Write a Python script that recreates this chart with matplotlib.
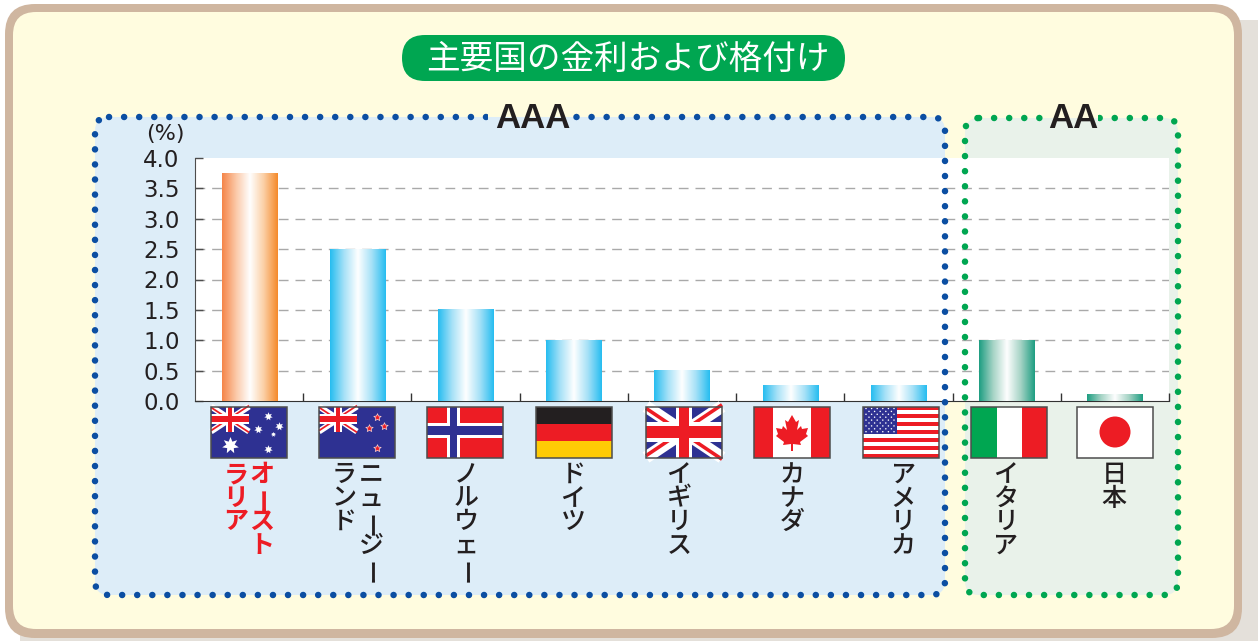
import numpy as np
import matplotlib
matplotlib.use("Agg")
import matplotlib.pyplot as plt
from matplotlib.patches import FancyBboxPatch, Rectangle, Circle, Polygon
from matplotlib.colors import LinearSegmentedColormap

# chart data
countries = ["オーストラリア", "ニュージーランド", "ノルウェー", "ドイツ", "イギリス", "カナダ", "アメリカ", "イタリア", "日本"]
rates = [3.75, 2.5, 1.5, 1.0, 0.5, 0.25, 0.25, 1.0, 0.1]
label_columns = [["オースト", "ラリア"], ["ニュージー", "ランド"], ["ノルウェー"], ["ドイツ"], ["イギリス"],
                 ["カナダ"], ["アメリカ"], ["イタリア"], ["日本"]]
y_ticks = [0.0, 0.5, 1.0, 1.5, 2.0, 2.5, 3.0, 3.5, 4.0]
title = "主要国の金利および格付け"

RED = "#ED1C24"
NAVY = "#2E3192"
TEXT = "#231F20"
JP = ["Noto Sans CJK JP", "DejaVu Sans"]
LAT = ["Liberation Sans", "DejaVu Sans"]

fig = plt.figure(figsize=(12.58, 6.41), dpi=100)
fig.patch.set_facecolor("white")


def pixel_axes(zorder):
    a = fig.add_axes([0, 0, 1, 1], zorder=zorder)
    a.set_xlim(0, 1258)
    a.set_ylim(641, 0)
    a.axis("off")
    a.patch.set_alpha(0)
    return a


def rbox(a, x0, y0, x1, y1, r, **kw):
    p = FancyBboxPatch((x0, y0), x1 - x0, y1 - y0, boxstyle=f"round,pad=0,rounding_size={r}", **kw)
    a.add_patch(p)
    return p


# background frame and group panels
bg = pixel_axes(0)
rbox(bg, 20, 20, 1290, 700, 30, fc="#E4E0DA", ec="none")
rbox(bg, 5, 4, 1242, 638, 30, fc="#CFB6A0", ec="none")
rbox(bg, 13, 12, 1234, 629, 23, fc="#FFFCDF", ec="none")
rbox(bg, 95, 117, 945, 595, 14, fc="#DDEDF8", ec="none")
rbox(bg, 965, 118, 1178, 595, 14, fc="#E9F2EA", ec="none")
rbox(bg, 402, 35, 845, 81, 23, fc="#00A651", ec="none")
bg.text(628, 59.5, title, color="white", fontsize=24.2, ha="center", va="center", family=JP)

# bar chart
ax = fig.add_axes([195 / 1258, (641 - 401) / 641, 974 / 1258, 243 / 641], zorder=1)
ax.set_facecolor("white")
x = np.arange(len(rates))
bars = ax.bar(x, rates, width=0.51, color="none", zorder=3)

cmap_orange = LinearSegmentedColormap.from_list("o", ["#F58549", "#FBC9A8", "#FFFFFF", "#FBCFA5", "#F58A2B"])
cmap_blue = LinearSegmentedColormap.from_list("b", ["#27BDF0", "#A6E1F7", "#FFFFFF", "#A6E1F7", "#27BDF0"])
cmap_green = LinearSegmentedColormap.from_list("g", ["#1E9E82", "#A5D3C5", "#FFFFFF", "#A5D3C5", "#1E9E82"])
ramp = np.linspace(0, 1, 128).reshape(1, -1)
for i, b in enumerate(bars):
    cmap = cmap_orange if i == 0 else (cmap_green if i >= 7 else cmap_blue)
    ax.imshow(ramp, cmap=cmap, aspect="auto", zorder=3,
              extent=(b.get_x(), b.get_x() + b.get_width(), 0, b.get_height()))

ax.hlines(y_ticks[1:-1], -0.5, len(rates) - 0.5, color="#A9A9A9", lw=1, linestyles=(0, (7, 5)), zorder=1)
ax.set_xlim(-0.5, len(rates) - 0.5)
ax.set_ylim(0, 4)
ax.set_yticks(y_ticks)
ax.set_yticklabels([f"{v:.1f}" for v in y_ticks], fontsize=16.5, family="DejaVu Sans", color=TEXT)
ax.set_xticks(x[:-1] + 0.5)
ax.set_xticks([len(rates) - 0.5], minor=True)
ax.set_xticklabels([])
ax.tick_params(axis="y", direction="in", length=6, width=1, color="#4D4D4D", pad=11)
ax.tick_params(axis="x", which="both", direction="in", length=6, width=1, color="#333333")
for s in ["top", "right"]:
    ax.spines[s].set_visible(False)
ax.spines["left"].set_color("#4D4D4D")
ax.spines["bottom"].set_color("#333333")

# dotted outlines, labels and flags sit over the chart
fg = pixel_axes(2)
dot = (0, (0.01, 2.3))
rbox(fg, 95, 117, 945, 595, 14, fc="none", ec="#0B4EA2", lw=4.7, linestyle=dot, capstyle="round")
rbox(fg, 965, 118, 1178, 595, 14, fc="none", ec="#00A651", lw=4.7, linestyle=dot, capstyle="round")
# gaps in the dots behind the rating names
fg.add_patch(Rectangle((488, 108), 84, 9, fc="#FFFCDF", ec="none"))
fg.add_patch(Rectangle((488, 117), 84, 10, fc="#DDEDF8", ec="none"))
fg.add_patch(Rectangle((1048, 108), 50, 10, fc="#FFFCDF", ec="none"))
fg.add_patch(Rectangle((1048, 118), 50, 10, fc="#E9F2EA", ec="none"))
fg.text(533, 118, "AAA", fontsize=25, fontweight="bold", family=LAT, color=TEXT, ha="center", va="center")
fg.text(1073, 118, "AA", fontsize=25, fontweight="bold", family=LAT, color=TEXT, ha="center", va="center")
fg.text(165, 134, "(%)", fontsize=16, family="DejaVu Sans", color=TEXT, ha="center", va="center")

FW, FH = 76, 51
FY = 406.5
flag_x = [211, 319, 427, 536, 646, 754, 863, 971, 1077]


def rect(x0, y0, w, h, c):
    fg.add_patch(Rectangle((x0, y0), w, h, fc=c, ec="none"))


def border(x0):
    fg.add_patch(Rectangle((x0, FY), FW, FH, fc="none", ec="#4D4D4D", lw=1.1))


def union_jack(x0, y0, w, h):
    clip = Rectangle((x0, y0), w, h, transform=fg.transData)
    rect(x0, y0, w, h, NAVY)
    off = h * 0.035
    for xs, sign in (([x0, x0 + w], 1), ([x0 + w, x0], -1)):
        ys = [y0, y0 + h]
        fg.plot(xs, ys, color="white", lw=h * 0.24 * 0.72, solid_capstyle="butt", clip_path=clip, zorder=1)
        fg.plot(xs, [ys[0] + sign * off, ys[1] + sign * off], color=RED, lw=h * 0.07 * 0.72,
                solid_capstyle="butt", clip_path=clip, zorder=1)
    rect(x0 + w * 0.39, y0, w * 0.22, h, "white")
    rect(x0, y0 + h * 0.3, w, h * 0.4, "white")
    rect(x0 + w * 0.44, y0, w * 0.12, h, RED)
    rect(x0, y0 + h * 0.38, w, h * 0.24, RED)


def star_flag(x0):
    rect(x0, FY, FW, FH, NAVY)
    union_jack(x0, FY, 38, 25)


def australia(x0):
    star_flag(x0)
    for dx, dy, s in [(57, 9, 38), (68, 19, 38), (47, 22, 38), (62, 27, 14), (57, 42, 38), (19, 38, 150)]:
        fg.scatter(x0 + dx, FY + dy, marker=(7, 1, 0), s=s, color="white", linewidths=0, zorder=1)


def new_zealand(x0):
    star_flag(x0)
    for dx, dy in [(58, 10), (65, 19), (50, 21), (58, 41)]:
        fg.scatter(x0 + dx, FY + dy, marker=(5, 1, 0), s=42, color="#F7C9C9", linewidths=0, zorder=1)
        fg.scatter(x0 + dx, FY + dy, marker=(5, 1, 0), s=16, color=RED, linewidths=0, zorder=1)


def norway(x0):
    rect(x0, FY, FW, FH, RED)
    rect(x0 + 20, FY, 13, FH, "white")
    rect(x0, FY + 16.5, FW, 15, "white")
    rect(x0 + 23, FY, 7, FH, NAVY)
    rect(x0, FY + 19.5, FW, 9, NAVY)


def germany(x0):
    rect(x0, FY, FW, FH / 3, TEXT)
    rect(x0, FY + FH / 3, FW, FH / 3, RED)
    rect(x0, FY + 2 * FH / 3, FW, FH / 3, "#FFCB05")


def uk(x0):
    union_jack(x0, FY, FW, FH)


def canada(x0):
    rect(x0, FY, FW, FH, "white")
    rect(x0, FY, 19, FH, RED)
    rect(x0 + FW - 19, FY, 19, FH, RED)
    leaf = [(0, -16), (-4, -9), (-7, -11), (-5, -1), (-9, -5), (-10, -2), (-16, -3), (-14, 3), (-16, 5),
            (-8, 11), (-9, 14), (-1, 13), (-1, 20), (1, 20), (1, 13), (9, 14), (8, 11), (16, 5), (14, 3),
            (16, -3), (10, -2), (9, -5), (5, -1), (7, -11), (4, -9)]
    fg.add_patch(Polygon([(x0 + 38 + a, FY + 24.5 + b) for a, b in leaf], fc=RED, ec="none"))


def usa(x0):
    rect(x0, FY, FW, FH, "white")
    for k in range(0, 13, 2):
        rect(x0, FY + k * FH / 13, FW, FH / 13, RED)
    rect(x0, FY, 34, 27, NAVY)
    for row in range(9):
        n = 6 if row % 2 == 0 else 5
        off = 3 if row % 2 == 0 else 6
        for c in range(n):
            fg.add_patch(Circle((x0 + off + c * 5.6, FY + 2 + row * 2.9), 0.75, fc="white", ec="none"))


def italy(x0):
    rect(x0, FY, 26, FH, "#00A651")
    rect(x0 + 26, FY, 25, FH, "white")
    rect(x0 + 51, FY, 25, FH, RED)


def japan(x0):
    rect(x0, FY, FW, FH, "white")
    fg.add_patch(Circle((x0 + 38, FY + 25.5), 15.5, fc=RED, ec="none"))


for fx, draw in zip(flag_x, [australia, new_zealand, norway, germany, uk, canada, usa, italy, japan]):
    draw(fx)
    border(fx)

# vertical country names, one glyph at a time, columns run right to left
col_x = [[262, 236], [371, 344], [466], [573], [679], [792], [903], [1006], [1114]]
for i, cols in enumerate(label_columns):
    for cx, col in zip(col_x[i], cols):
        for k, ch in enumerate(col):
            dx = 4 if ch == "ー" else 0
            fg.text(cx + dx, 475 + k * 23.6, ch, fontsize=18, family=JP, ha="center", va="center",
                    color=RED if i == 0 else TEXT, fontweight="bold" if i == 0 else "medium",
                    rotation=90 if ch == "ー" else 0)

plt.savefig("out.png", dpi=100)
